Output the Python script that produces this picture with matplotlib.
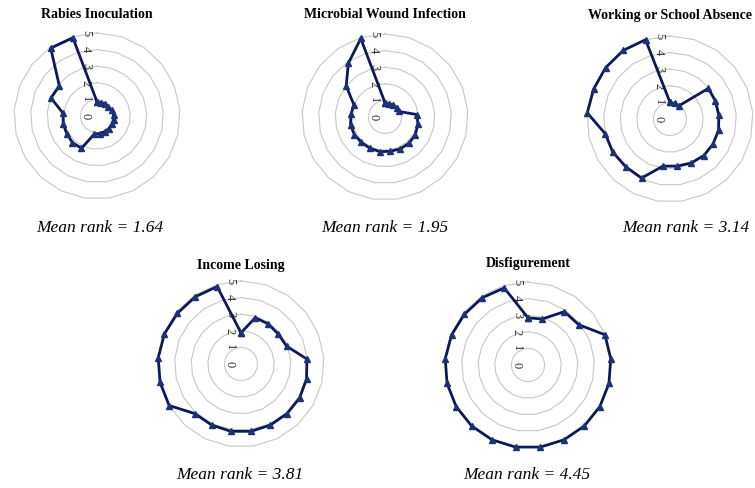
import numpy as np
import matplotlib
matplotlib.use("Agg")
import matplotlib.pyplot as plt
from matplotlib.transforms import offset_copy

# values, 21 categories, clockwise from 12 o'clock
titles = ["Rabies Inoculation", "Microbial Wound Infection", "Working or School Absence",
          "Income Losing", "Disfigurement"]
mean_ranks = ["1.64", "1.95", "3.14", "3.81", "4.45"]

rabies = [0.86, 0.85, 0.86, 0.88, 0.95, 1.0, 1.02, 1.02, 1.04, 1.05, 1.07, 1.1,
          2.16, 2.18, 2.11, 2.09, 2.04, 2.98, 2.9, 4.95, 4.93]
microbial = [0.86, 0.84, 0.87, 0.9, 0.91, 1.94, 2.03, 2.11, 2.14, 2.13, 2.09, 2.11,
             2.09, 2.09, 2.13, 2.13, 2.06, 2.01, 2.99, 3.92, 4.95]
working = [1.0, 0.98, 0.97, 2.96, 2.94, 2.95, 3.0, 3.0, 3.0, 2.94, 2.87, 2.87,
           3.95, 3.92, 3.98, 4.0, 5.0, 4.94, 4.96, 5.0, 5.0]
income = [1.88, 2.92, 2.92, 2.88, 2.95, 3.98, 4.05, 4.08, 4.08, 4.08, 4.1, 4.1,
          4.08, 4.08, 5.0, 5.0, 5.0, 4.96, 4.9, 4.9, 4.88]
disfig = [2.84, 2.9, 3.89, 3.9, 4.98, 5.0, 5.0, 5.0, 5.0, 5.0, 5.0, 5.0,
          5.0, 5.0, 5.0, 5.0, 5.0, 4.95, 4.9, 4.9, 4.86]
series = [rabies, microbial, working, income, disfig]

rings = [1, 2, 3, 4, 5]
ring_labels = ["0", "1", "2", "3", "4", "5"]

# layout in pixels: plot centre x, centre y, mean-rank text x
W, H = 755, 488
centres = [(97, 116), (385, 117), (670, 119), (241, 364), (528, 365)]
title_y = [15, 15, 15, 265, 264]
note_x = [100, 385, 686, 240, 527]
note_y = [228, 228, 228, 475, 475]
R = 83

plt.rcParams['font.family'] = ['Liberation Serif', 'DejaVu Serif']
fig = plt.figure(figsize=(W / 100, H / 100), dpi=100)

n = len(rabies)
theta = np.arange(n) * 2 * np.pi / n
theta_c = np.append(theta, theta[0])

for i, vals in enumerate(series):
    cx, cy = centres[i]
    ax = fig.add_axes([(cx - R) / W, (H - cy - R) / H, 2 * R / W, 2 * R / H],
                      projection='polar')
    ax.set_theta_zero_location('N')
    ax.set_theta_direction(-1)
    ax.set_ylim(0, 5)
    ax.grid(False)
    ax.spines['polar'].set_visible(False)
    ax.set_xticks([])
    ax.set_yticks([])
    ax.patch.set_alpha(0)

    # polygon gridlines like excel
    for r in rings:
        ax.plot(theta_c, [r] * (n + 1), color='#c8c8c8', lw=0.8, clip_on=False, zorder=1)

    # axis labels, rotated, left of the vertical axis
    tr = offset_copy(ax.transData, fig=fig, x=-8, y=0, units='points')
    for k, lab in enumerate(ring_labels):
        ax.text(0, k, lab, transform=tr, rotation=-90, fontsize=9, color='#333333',
                ha='center', va='center', zorder=2)

    v = list(vals) + [vals[0]]
    ax.plot(theta_c, v, color='#0e1858', lw=2, marker='^', markersize=4.5,
            markerfacecolor='#1c3278', markeredgecolor='#1c3278', clip_on=False, zorder=3)

    fig.text(cx / W, 1 - title_y[i] / H, titles[i], ha='center',
             va='center', fontsize=10, fontweight='bold')
    fig.text(note_x[i] / W, 1 - note_y[i] / H, "Mean rank = " + mean_ranks[i],
             ha='center', va='center', fontsize=12.5, style='italic')

fig.savefig("out.png", dpi=100)
